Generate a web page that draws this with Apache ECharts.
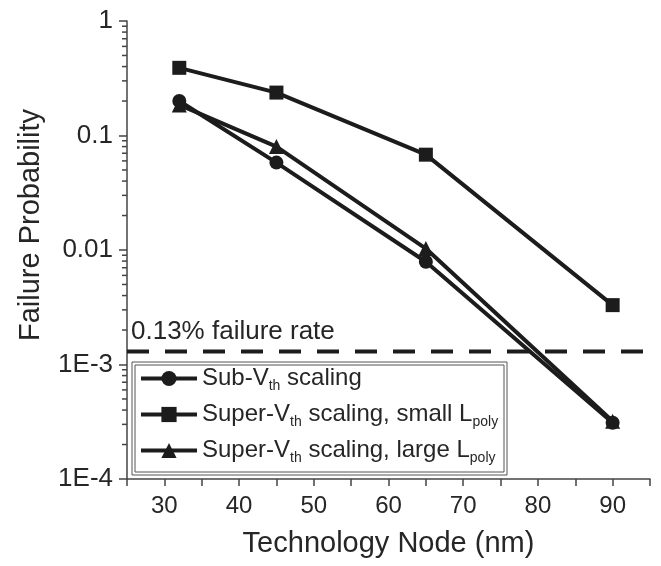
<!DOCTYPE html>
<html>
<head>
<meta charset="utf-8">
<script src="https://cdn.jsdelivr.net/npm/echarts@6/dist/echarts.min.js"></script>
<style>
  html, body { margin: 0; padding: 0; background: #fff; }
  #chart { width: 661px; height: 566px; }
</style>
</head>
<body>
<div id="chart"></div>
<script>
// Technology node (nm)
const xNodes = [32, 45, 65, 90];

// Failure probability per series
const subVth = [0.2, 0.058, 0.0079, 0.00031];
const superSmallLpoly = [0.39, 0.237, 0.068, 0.0033];
const superLargeLpoly = [0.185, 0.08, 0.0103, 0.00032];

const seriesNames = ['Sub-Vth scaling', 'Super-Vth scaling, small Lpoly', 'Super-Vth scaling, large Lpoly'];
const legendLabels = [
  'Sub-V{sub|th} scaling',
  'Super-V{sub|th} scaling, small L{sub|poly}',
  'Super-V{sub|th} scaling, large L{sub|poly}'
];

// 0.13% failure-rate threshold, drawn across the whole x range
const failureRate = 0.0013;
const failureX = [25, 95];
const failureLabel = '0.13% failure rate';

// y ticks (log decades) and their labels
const yTickExp = [-4, -3, -2, -1, 0];
const yTickLabels = ['1E-4', '1E-3', '0.01', '0.1', '1'];

const INK = '#1c1c1c';
const TEXT = '#262626';
const FONT = 'Liberation Sans, Arial, sans-serif';

// minor tick positions on the log axis (2..9 x each decade)
const yMinorTicks = [];
for (let e = -4; e < 0; e++) {
  for (let k = 2; k <= 9; k++) yMinorTicks.push(k * Math.pow(10, e));
}

const pairs = (ys) => xNodes.map((x, i) => [x, ys[i]]);

const chart = echarts.init(document.getElementById('chart'), null, { renderer: 'canvas' });

const lineSeries = (name, ys, symbol, size) => ({
  name,
  type: 'line',
  data: pairs(ys),
  symbol,
  symbolSize: size,
  showAllSymbol: true,
  lineStyle: { width: 4, color: INK },
  itemStyle: { color: INK },
  emphasis: { disabled: true },
  z: 3,
});

chart.setOption({
  animation: false,
  textStyle: { fontFamily: FONT },
  grid: { left: 127, right: 11, top: 21, bottom: 87 },
  xAxis: {
    type: 'value',
    min: 25,
    max: 95,
    interval: 5,
    name: 'Technology Node (nm)',
    nameLocation: 'middle',
    nameGap: 50,
    nameTextStyle: { fontSize: 29, color: TEXT, fontFamily: FONT },
    axisLine: { lineStyle: { color: '#444', width: 1.5 } },
    axisTick: { show: true, inside: false, length: 7, lineStyle: { color: '#444', width: 1.5 } },
    axisLabel: {
      fontSize: 24, color: TEXT, margin: 15, fontFamily: FONT,
      formatter: (v) => (v % 10 === 0 ? String(v) : '')
    },
    splitLine: { show: false },
  },
  yAxis: {
    type: 'log',
    logBase: 10,
    min: 1e-4,
    max: 1,
    name: 'Failure Probability',
    nameLocation: 'middle',
    nameGap: 82,
    nameRotate: 90,
    nameTextStyle: { fontSize: 29, color: TEXT, fontFamily: FONT, padding: [0, 0, 0, 50] },
    axisLine: { show: true, lineStyle: { color: '#444', width: 1.5 } },
    axisTick: { show: true, inside: false, length: 8, lineStyle: { color: '#444', width: 1.5 } },
    axisLabel: {
      fontSize: 26, color: TEXT, margin: 14, fontFamily: FONT,
      formatter: (v) => {
        const i = yTickExp.indexOf(Math.round(Math.log10(v)));
        return i >= 0 ? yTickLabels[i] : '';
      }
    },
    splitLine: { show: false },
  },
  legend: {
    data: seriesNames,
    orient: 'vertical',
    left: 139,
    top: 366,
    itemWidth: 56,
    itemHeight: 19,
    itemGap: 9,
    padding: 0,
    selectedMode: false,
    lineStyle: { width: 4 },
    formatter: (name) => legendLabels[seriesNames.indexOf(name)],
    textStyle: {
      fontSize: 24,
      color: TEXT,
      fontFamily: FONT,
      lineHeight: 25,
      rich: {
        sub: { fontSize: 14, color: TEXT, fontFamily: FONT, padding: [15, 0, 0, 0] }
      }
    },
  },
  graphic: [
    { type: 'rect', shape: { x: 132, y: 362, width: 375, height: 113 }, style: { fill: '#fff', stroke: '#555', lineWidth: 1 }, z: 0, silent: true },
    { type: 'rect', shape: { x: 135, y: 365, width: 369, height: 107 }, style: { fill: 'none', stroke: '#555', lineWidth: 1 }, z: 0, silent: true },
    { type: 'text', x: 131, y: 332, style: { text: failureLabel, fontSize: 26, fill: TEXT, fontFamily: FONT, textVerticalAlign: 'middle' }, silent: true },
  ],
  series: [
    lineSeries(seriesNames[0], subVth, 'circle', 14),
    lineSeries(seriesNames[1], superSmallLpoly, 'rect', 14),
    lineSeries(seriesNames[2], superLargeLpoly, 'triangle', 15),
    {
      name: 'failureRate',
      type: 'line',
      data: failureX.map((x) => [x, failureRate]),
      symbol: 'none',
      silent: true,
      lineStyle: { type: [22, 16], width: 4, color: INK },
      emphasis: { disabled: true },
      z: 2
    },
    {
      name: 'minorTicks',
      type: 'custom',
      silent: true,
      clip: false,
      data: yMinorTicks.map((v) => [25, v]),
      renderItem: (params, api) => {
        const p = api.coord([api.value(0), api.value(1)]);
        return {
          type: 'line',
          shape: { x1: p[0] - 5, y1: p[1], x2: p[0], y2: p[1] },
          style: { stroke: '#444', lineWidth: 1.5 }
        };
      },
      z: 2
    }
  ]
});
</script>
</body>
</html>
